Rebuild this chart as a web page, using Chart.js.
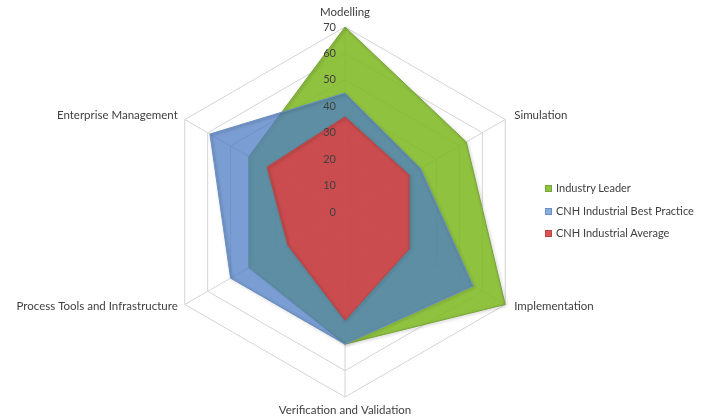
<!DOCTYPE html>
<html>
<head>
<meta charset="utf-8">
<script src="https://cdn.jsdelivr.net/npm/chart.js@4/dist/chart.umd.min.js"></script>
<style>
  html, body { margin: 0; padding: 0; background: #ffffff; }
  #wrap { position: relative; width: 703px; height: 419px; }
  #legend { position: absolute; left: 545px; top: 180px; font: 11px Lato, sans-serif; color: #404040; }
  #legend .item { height: 22.5px; line-height: 16px; white-space: nowrap; }
  #legend .swatch { display: inline-block; width: 7px; height: 7px; margin-right: 4px; vertical-align: 0px; box-sizing: border-box; }
</style>
</head>
<body>
<div id="wrap">
  <canvas id="chart" width="703" height="419"></canvas>
  <div id="legend"></div>
</div>
<script>
// Capability areas around the radar
const categories = [
  'Modelling',
  'Simulation',
  'Implementation',
  'Verification and Validation',
  'Process Tools and Infrastructure',
  'Enterprise Management'
];

// Series, listed in legend order
const seriesNames = ['Industry Leader', 'CNH Industrial Best Practice', 'CNH Industrial Average'];
const industryLeader = [70, 53, 70, 50, 42, 42];
const bestPractice   = [45, 33, 56, 50, 50, 59];
const average        = [36, 28, 28, 41, 25, 34];

// Radial axis range
const axisMin = 0;
const axisMax = 70;
const axisStep = 10;

const fills   = ['rgba(128,186,36,0.88)', 'rgba(78,124,196,0.75)', 'rgba(216,70,70,0.9)'];
const borders = ['#7aa33a', '#6a8fc4', '#b84646'];
const swatches = ['#8cc63f', '#8aaedc', '#d9534f'];
const textColor = '#404040';
const labelFont = '11.5px Lato, sans-serif';

// Soft shadow under each series outline
const outlineShadow = {
  id: 'outlineShadow',
  beforeDatasetDraw(chart) {
    const ctx = chart.ctx;
    ctx.save();
    ctx.shadowColor = 'rgba(0,0,0,0.35)';
    ctx.shadowBlur = 3;
    ctx.shadowOffsetX = 1;
    ctx.shadowOffsetY = 1;
  },
  afterDatasetDraw(chart) {
    chart.ctx.restore();
  }
};

// Value labels just left of the vertical axis, and category names at the spoke ends
const axisText = {
  id: 'axisText',
  afterDatasetsDraw(chart) {
    const scale = chart.scales.r;
    const ctx = chart.ctx;
    ctx.save();
    ctx.fillStyle = textColor;

    ctx.font = '11px Lato, sans-serif';
    ctx.textAlign = 'right';
    ctx.textBaseline = 'middle';
    scale.ticks.forEach(t => {
      const d = scale.getDistanceFromCenterForValue(t.value);
      ctx.fillText(String(t.value), scale.xCenter - 9, scale.yCenter - d);
    });

    ctx.font = labelFont;
    ctx.textBaseline = 'middle';
    scale._pointLabels.forEach((label, i) => {
      const p = scale.getPointPosition(i, scale.drawingArea);
      const dx = p.x - scale.xCenter;
      const dy = p.y - scale.yCenter;
      let x = p.x, y = p.y;
      if (Math.abs(dx) < 1) {
        ctx.textAlign = 'center';
        y += dy < 0 ? -15 : 13;
      } else {
        ctx.textAlign = dx > 0 ? 'left' : 'right';
        x += dx > 0 ? 9 : -7;
        y += dy < 0 ? -4 : 2;
      }
      ctx.fillText(label, x, y);
    });
    ctx.restore();
  }
};

Chart.defaults.font.family = 'Lato, sans-serif';
Chart.defaults.font.size = 11;
Chart.defaults.color = textColor;

const series = [industryLeader, bestPractice, average];

new Chart(document.getElementById('chart'), {
  type: 'radar',
  data: {
    labels: categories,
    datasets: series.map((values, i) => ({
      label: seriesNames[i],
      data: values,
      fill: true,
      backgroundColor: fills[i],
      borderColor: borders[i],
      borderWidth: 1,
      pointRadius: 0,
      order: series.length - i
    }))
  },
  options: {
    responsive: false,
    animation: false,
    devicePixelRatio: 1,
    layout: { padding: { left: 160, right: 173, top: 27, bottom: 22 } },
    plugins: {
      legend: { display: false },
      tooltip: { enabled: false }
    },
    scales: {
      r: {
        min: axisMin,
        max: axisMax,
        ticks: { stepSize: axisStep, display: false },
        grid: { color: '#d4d4d4', lineWidth: 1 },
        angleLines: { color: '#d4d4d4', lineWidth: 1 },
        pointLabels: { display: false }
      }
    }
  },
  plugins: [outlineShadow, axisText]
});

// Legend
const legend = document.getElementById('legend');
seriesNames.forEach((name, i) => {
  const item = document.createElement('div');
  item.className = 'item';
  const sw = document.createElement('span');
  sw.className = 'swatch';
  sw.style.background = swatches[i];
  sw.style.border = '1px solid ' + borders[i];
  item.appendChild(sw);
  item.appendChild(document.createTextNode(name));
  legend.appendChild(item);
});
</script>
</body>
</html>
